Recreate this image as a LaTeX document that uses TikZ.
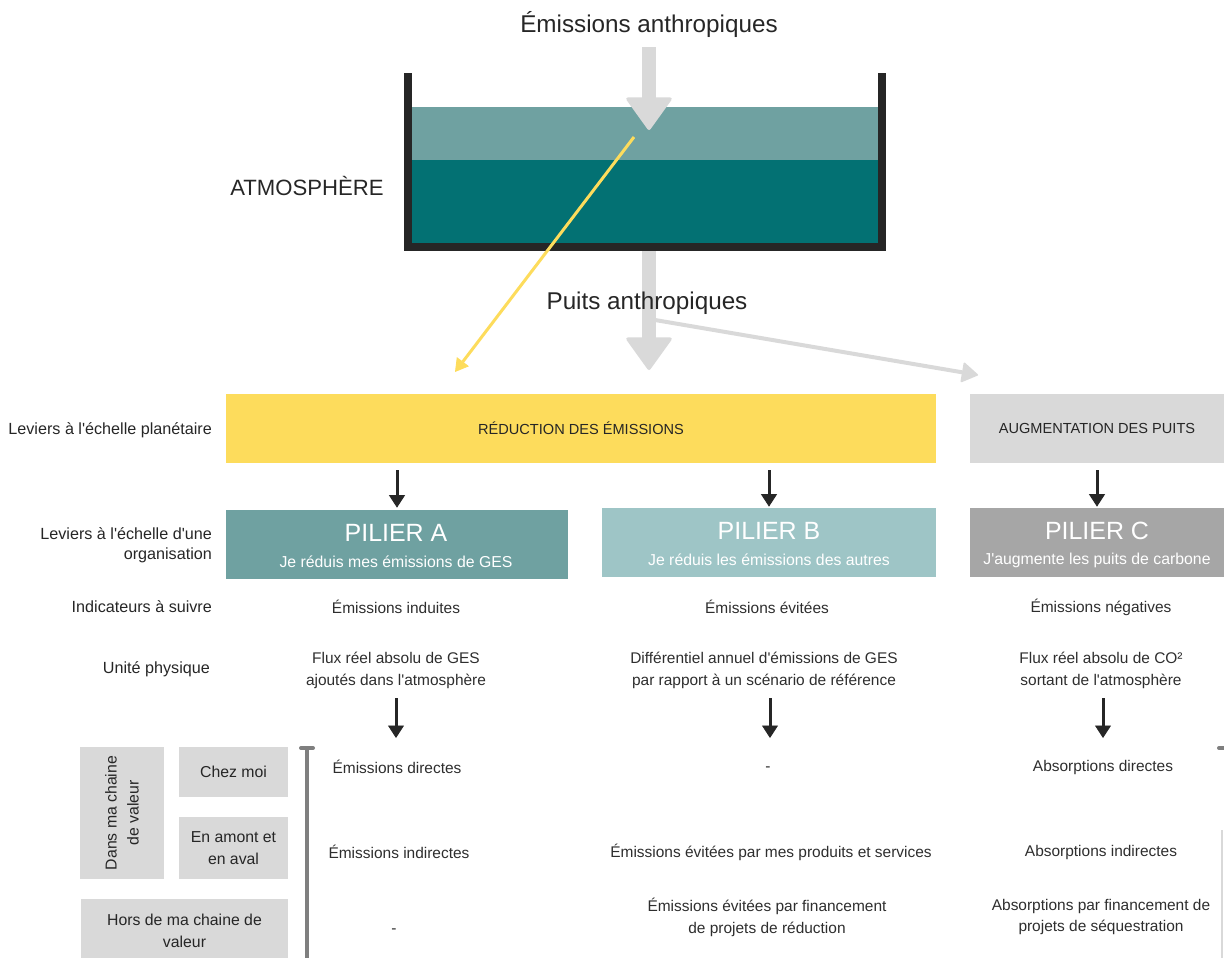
\documentclass[tikz,border=0pt]{standalone}
\usepackage{fontspec}
\setmainfont{Liberation Sans}[Ligatures=TeXOff]
\usetikzlibrary{arrows.meta,positioning}

\definecolor{jaune}{HTML}{FDDC5C}
\definecolor{grisclair}{HTML}{D9D9D9}
\definecolor{grisfonce}{HTML}{A6A6A6}
\definecolor{tealA}{HTML}{6FA1A1}
\definecolor{tealB}{HTML}{9EC5C6}
\definecolor{tealD}{HTML}{037173}
\definecolor{ink}{HTML}{262626}
\definecolor{txt}{HTML}{2E2E2E}
\definecolor{barre}{HTML}{7F7F7F}

\tikzset{
  head/.style={font=\fontsize{13.8}{16}\selectfont, text=ink},
  lbl/.style={anchor=east, align=right, inner sep=1pt, font=\fontsize{9.2}{11.3}\selectfont, text=ink},
  val/.style={align=center, inner sep=1pt, font=\fontsize{8.8}{12.5}\selectfont, text=txt},
  boxtxt/.style={minimum height=1.38cm, inner sep=0pt, font=\fontsize{8.3}{10}\selectfont, text=ink},
  pilier/.style={minimum height=1.38cm, inner sep=0pt},
  ptitle/.style={font=\fontsize{14.2}{16}\selectfont, text=white},
  psub/.style={font=\fontsize{9}{11}\selectfont, text=white},
  cell/.style={fill=grisclair, align=center, inner sep=0pt, font=\fontsize{9}{12.5}\selectfont, text=ink},
  darrow/.style={draw=ink, line width=0.06cm, -{Triangle[width=0.32cm,length=0.25cm,line width=0.5pt]}},
  bigarrow/.style={draw=grisclair, line width=0.28cm, -{Triangle[width=0.96cm,length=0.68cm,round,line width=2pt]}},
}

\begin{document}
\begin{tikzpicture}[x=0.02cm,y=-0.02cm]
\useasboundingbox (0,0) rectangle (1224,957);

% reservoir atmosphere
\fill[tealA] (412,107) rectangle (884,160);
\fill[tealD] (412,160) rectangle (884,245);
\draw[ink, line width=0.16cm] (408,73) -- (408,247) -- (882,247) -- (882,73);

\node[head] (emi) at (649,25) {Émissions anthropiques};
\node[head, font=\fontsize{12.6}{15}\selectfont] (atmo) at (307,186) {ATMOSPHÈRE};

\coordinate (emiTip) at (649,130);
\coordinate (tankBot) at (649,251);
\coordinate (sinkTip) at (649,370);
\coordinate (brStart) at (655,320);
\coordinate (brTip) at (978,375);
\coordinate (ySrc) at (634,137);
\coordinate (yTip) at (455,372);

% fleches grises
\draw[bigarrow, shorten <=0.06cm] (emi.south) -- (emiTip);
\draw[bigarrow] (tankBot) -- (sinkTip);
\draw[grisclair, line width=0.08cm, -{Triangle[width=0.42cm,length=0.34cm,round,line width=1pt]}] (brStart) -- (brTip);
% fleche jaune
\draw[jaune, line width=0.06cm, -{Triangle[width=0.3cm,length=0.26cm,line width=0.5pt]}] (ySrc) -- (yTip);

\node[head] (puits) at (647,303) {Puits anthropiques};

% leviers planetaires
\node[boxtxt, fill=jaune, minimum width=14.2cm] (redu) at (581,428.5) {RÉDUCTION DES ÉMISSIONS};
\node[boxtxt, fill=grisclair, minimum width=5.08cm] (aug) at (1097,428.5) {AUGMENTATION DES PUITS};

% piliers
\node[pilier, fill=tealA, minimum width=6.84cm] (pA) at (397,544.5) {};
\node[pilier, fill=tealB, minimum width=6.68cm] (pB) at (769,542.5) {};
\node[pilier, fill=grisfonce, minimum width=5.08cm] (pC) at (1097,542.5) {};

\node[ptitle] (tA) at (396,533) {PILIER A};
\node[psub] (sA) at (396,562) {Je réduis mes émissions de GES};
\node[ptitle] (tB) at (769,531) {PILIER B};
\node[psub] (sB) at (769,560) {Je réduis les émissions des autres};
\node[ptitle] (tC) at (1097,531) {PILIER C};
\node[psub] (sC) at (1097,560) {J'augmente les puits de carbone};

\draw[darrow, shorten <=0.14cm, shorten >=0.04cm] (redu.south -| pA.north) -- (pA.north);
\draw[darrow, shorten <=0.14cm, shorten >=0.02cm] (redu.south -| pB.north) -- (pB.north);
\draw[darrow, shorten <=0.14cm, shorten >=0.02cm] (aug.south) -- (pC.north);

% libelles a gauche
\node[lbl] (l1) at (214,430) {Leviers à l'échelle planétaire};
\node[lbl] (l2) at (214,545) {Leviers à l'échelle d'une\\organisation};
\node[lbl] (l3) at (214,607) {Indicateurs à suivre};
\node[lbl] (l4) at (212,669) {Unité physique};

% indicateurs et unites
\node[val] (iA) at (396,607) {Émissions induites};
\node[val] (iB) at (767,607) {Émissions évitées};
\node[val] (iC) at (1101,607) {Émissions négatives};
\node[val] (uA) at (396,670) {Flux réel absolu de GES\\ajoutés dans l'atmosphère};
\node[val] (uB) at (764,670) {Différentiel annuel d'émissions de GES\\par rapport à un scénario de référence};
\node[val] (uC) at (1101,670) {Flux réel absolu de CO²\\sortant de l'atmosphère};

\coordinate (kA) at (396,738);
\coordinate (kB) at (770,738);
\coordinate (kC) at (1103,738);
\draw[darrow, shorten <=0.16cm] (uA.south -| kA) -- (kA);
\draw[darrow, shorten <=0.16cm] (uB.south -| kB) -- (kB);
\draw[darrow, shorten <=0.16cm] (uC.south -| kC) -- (kC);

% chaine de valeur
\node[cell, rotate=90, minimum width=2.64cm, minimum height=1.68cm] (dans) at (122,813) {Dans ma chaine\\de valeur};
\node[cell, minimum width=2.18cm, minimum height=1.0cm] (chez) at (233.5,772) {Chez moi};
\node[cell, minimum width=2.18cm, minimum height=1.24cm] (amont) at (233.5,848) {En amont et\\en aval};
\node[cell, minimum width=4.14cm, minimum height=1.26cm] (hors) at (184.5,930.5) {Hors de ma chaine de\\valeur};

\draw[barre, line width=0.08cm] (307,748) -- (307,960);
\draw[barre, line width=0.08cm, line cap=round] (301,748) -- (313,748);
\draw[barre, line width=0.08cm, line cap=round] (1219,748) -- (1226,748);
\draw[grisclair, line width=0.03cm] (1222,830) -- (1222,960);

% lignes du tableau
\node[val] (dA) at (397,767) {Émissions directes};
\node[val] (dB) at (768,769) {-};
\node[val] (dC) at (1103,767) {Absorptions directes};
\node[val] (nA) at (399,852) {Émissions indirectes};
\node[val] (nB) at (771,852) {Émissions évitées par mes produits et services};
\node[val] (nC) at (1101,852) {Absorptions indirectes};
\node[val] (hA) at (394,931) {-};
\node[val] (hB) at (767,917) {Émissions évitées par financement\\de projets de réduction};
\node[val] (hC) at (1101,917) {Absorptions par financement de\\projets de séquestration};

\end{tikzpicture}
\end{document}
